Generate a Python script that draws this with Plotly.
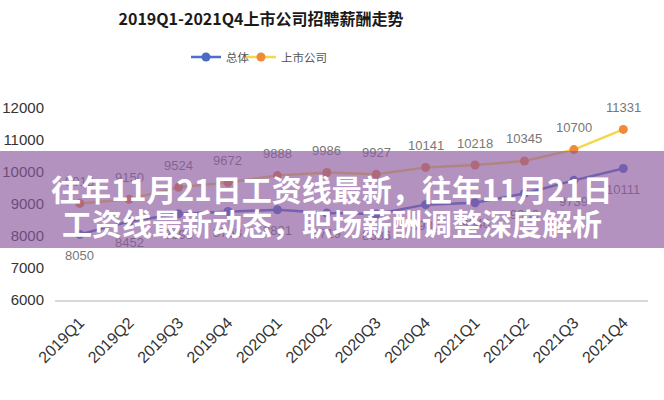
import plotly.graph_objects as go

categories = ["2019Q1", "2019Q2", "2019Q3", "2019Q4", "2020Q1", "2020Q2",
              "2020Q3", "2020Q4", "2021Q1", "2021Q2", "2021Q3", "2021Q4"]
overall = [8050, 8452, 8693, 8768, 8821, 8719, 8686, 8980, 9040, 9330, 9739, 10111]
listed = [9018, 9150, 9524, 9672, 9888, 9986, 9927, 10141, 10218, 10345, 10700, 11331]
y_ticks = [6000, 7000, 8000, 9000, 10000, 11000, 12000]
y_tick_labels = ["6000", "7000", "8000", "9000", "10000", "11000", "12000"]

title_text = "2019Q1-2021Q4上市公司招聘薪酬走势"
banner_line1 = "往年11月21日工资线最新，往年11月21日"
banner_line2 = "工资线最新动态，职场薪酬调整深度解析"

FONT = "Liberation Sans, Noto Sans CJK SC, sans-serif"
CJK = "Noto Sans CJK SC, sans-serif"

W, H = 664, 400
L, T = 55, 108
PW, PH = 593, 192

def px(sx):
    return (sx - L) / PW

def py(sy):
    return (T + PH - sy) / PH

fig = go.Figure()
fig.add_trace(go.Scatter(
    x=categories, y=overall, name="总体", mode="lines+markers",
    line=dict(color="#4d6fcb", width=2.5),
    marker=dict(color="#4a6cc8", size=9), legend="legend"))
fig.add_trace(go.Scatter(
    x=categories, y=listed, name="上市公司", mode="lines+markers",
    line=dict(color="#f7d64c", width=2.5),
    marker=dict(color="#f08a3a", size=9), legend="legend2"))

annotations = []
for c, v in zip(categories, listed):
    annotations.append(dict(x=c, y=v, xref="x", yref="y", text=str(v),
                            showarrow=False, yshift=22,
                            font=dict(family=FONT, size=13, color="#777777")))
for c, v in zip(categories, overall):
    annotations.append(dict(x=c, y=v, xref="x", yref="y", text=str(v),
                            showarrow=False, yshift=-21,
                            font=dict(family=FONT, size=13, color="#777777")))

# banner overlay
annotations.append(dict(x=px(332), y=py(199.5), xref="paper", yref="paper",
                        text=" ", showarrow=False, width=680, height=97,
                        bgcolor="rgba(140,90,160,0.66)", borderpad=0, borderwidth=0,
                        xanchor="center", yanchor="middle"))
annotations.append(dict(x=px(332), y=py(188), xref="paper", yref="paper",
                        text="<b>" + banner_line1 + "</b>", showarrow=False,
                        font=dict(family=CJK, size=30, color="white"),
                        xanchor="center", yanchor="middle"))
annotations.append(dict(x=px(332), y=py(222), xref="paper", yref="paper",
                        text="<b>" + banner_line2 + "</b>", showarrow=False,
                        font=dict(family=CJK, size=30, color="white"),
                        xanchor="center", yanchor="middle"))

legend_common = dict(orientation="h", y=1 - 57 / H, yanchor="middle",
                     xref="container", yref="container", xanchor="left",
                     font=dict(family=CJK, size=11.5, color="#555555"),
                     itemwidth=30, bgcolor="rgba(0,0,0,0)")

fig.update_layout(
    width=W, height=H,
    margin=dict(l=L, r=W - L - PW, t=T, b=H - T - PH, autoexpand=False),
    paper_bgcolor="white", plot_bgcolor="white",
    font=dict(family=FONT, color="#333333"),
    title=dict(text="<b>" + title_text + "</b>", x=261 / W, xanchor="center",
               y=1 - 19 / H, yanchor="middle", xref="container", yref="container",
               font=dict(family=CJK, size=16, color="#1a1a1a")),
    legend=dict(x=186 / W, **legend_common),
    legend2=dict(x=241 / W, **legend_common),
    showlegend=True,
    annotations=annotations,
)
fig.update_xaxes(type="category", range=[-0.5, 11.5], tickangle=-45,
                 tickfont=dict(size=16, color="#333333"), showgrid=False,
                 showline=True, linecolor="#d9d9d9", linewidth=2, ticks="",
                 zeroline=False, automargin=False, ticklabelstandoff=5)
fig.update_yaxes(range=[6000, 12000], tickvals=y_ticks, ticktext=y_tick_labels,
                 showgrid=False, showline=False, zeroline=False, ticks="",
                 tickfont=dict(size=15, color="#333333"), ticklabelstandoff=10,
                 automargin=False)

fig.write_html("out.html",
               config={"displayModeBar": False},
               post_script="document.body.style.margin='0';"
                           "document.body.style.overflow='hidden';")
